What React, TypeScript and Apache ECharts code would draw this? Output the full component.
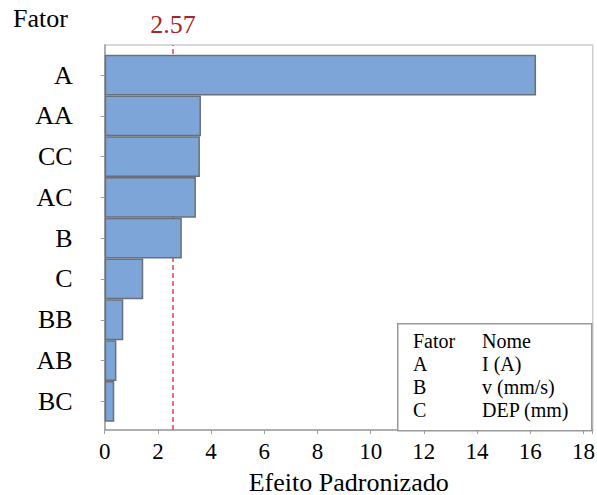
import React, { useEffect, useRef } from "react";
import * as echarts from "echarts";

const categories = ["A", "AA", "CC", "AC", "B", "C", "BB", "AB", "BC"];
const effects = [16.22, 3.62, 3.58, 3.43, 2.9, 1.45, 0.7, 0.44, 0.36];
const threshold = 2.57;
const xTicks = [0, 2, 4, 6, 8, 10, 12, 14, 16, 18];
const legendFactors = ["A", "B", "C"];
const legendNames = ["I (A)", "v (mm/s)", "DEP (mm)"];

const SERIF = "Liberation Serif";
const SERIF_LIST = "Liberation Serif, Times New Roman, serif";

export default function App() {
  const ref = useRef<HTMLDivElement>(null);
  useEffect(() => {
    if (!ref.current) return;
    const chart = echarts.init(ref.current, null, { renderer: "svg" });
    const L = 104.7;
    const T = 45;
    const W = 488;
    const H = 385;
    const legendRows = [["Fator", "Nome"], ...legendFactors.map((f, i) => [f, legendNames[i]])];
    const legendTexts: any[] = [];
    legendRows.forEach((row, i) => {
      legendTexts.push({
        type: "text",
        left: 413,
        top: 331 + i * 23,
        style: { text: row[0], fontSize: 20, fontFamily: SERIF, fill: "#000" },
      });
      legendTexts.push({
        type: "text",
        left: 482,
        top: 331 + i * 23,
        style: { text: row[1], fontSize: 20, fontFamily: SERIF, fill: "#000" },
      });
    });
    chart.setOption({
      animation: false,
      textStyle: { fontFamily: SERIF },
      grid: [
        {
          left: L, top: T, width: W, height: H, show: true,
          borderColor: "#cccccc", borderWidth: 1.5, backgroundColor: "#fff",
          outerBoundsMode: "none", containLabel: false,
        },
        { left: L, top: 54.7, width: W, height: 367, outerBoundsMode: "none", containLabel: false },
      ],
      xAxis: [
        {
          gridIndex: 0,
          type: "value",
          min: 0,
          max: 18.35,
          interval: 2,
          axisLine: { show: true, lineStyle: { color: "#a0a0a0", width: 1.5 } },
          axisTick: { show: true, length: 4, lineStyle: { color: "#a0a0a0" } },
          splitLine: { show: false },
          axisLabel: {
            show: true,
            color: "#000",
            fontSize: 23,
            fontStyle: "normal",
            fontWeight: "normal",
            fontFamily: SERIF_LIST,
            margin: 10,
            formatter: (v: number) => (xTicks.includes(v) ? String(v) : ""),
          },
          name: "Efeito Padronizado",
          nameLocation: "middle",
          nameGap: 39,
          nameTextStyle: {
            color: "#000",
            fontSize: 26,
            fontStyle: "normal",
            fontWeight: "normal",
            fontFamily: SERIF_LIST,
          },
        },
        {
          gridIndex: 1,
          type: "value",
          min: 0,
          max: 18.35,
          show: false,
        },
      ],
      yAxis: [
        {
          gridIndex: 0,
          type: "value",
          min: 0,
          max: 1,
          axisLine: { show: true, lineStyle: { color: "#a0a0a0", width: 1.5 } },
          axisTick: { show: false },
          axisLabel: { show: false },
          splitLine: { show: false },
        },
        {
          gridIndex: 1,
          type: "category",
          data: categories,
          inverse: true,
          axisLine: { show: false },
          axisTick: { show: true, alignWithLabel: true, length: 4, lineStyle: { color: "#a0a0a0" } },
          axisLabel: { color: "#000", fontSize: 26, fontFamily: SERIF, margin: 32 },
        },
      ],
      series: [
        {
          type: "scatter",
          xAxisIndex: 0,
          yAxisIndex: 0,
          data: [],
          z: 1,
          markLine: {
            silent: true,
            symbol: "none",
            z: 1,
            lineStyle: { type: [5, 3], color: "#d9474f", width: 1.5 },
            label: {
              show: true,
              position: "end",
              formatter: String(threshold),
              color: "#a3262c",
              fontSize: 26,
              fontFamily: SERIF,
              distance: 8,
            },
            data: [{ xAxis: threshold }],
          },
        },
        {
          type: "bar",
          xAxisIndex: 1,
          yAxisIndex: 1,
          data: effects,
          z: 5,
          barCategoryGap: 0,
          itemStyle: { color: "#7da5d8", borderColor: "#6a6f7a", borderWidth: 1.5 },
        },
      ],
      graphic: [
        {
          type: "text",
          left: 13,
          top: 5,
          style: { text: "Fator", fontSize: 26, fontFamily: SERIF, fill: "#000" },
        },
        {
          type: "rect",
          left: 397,
          top: 323,
          shape: { width: 194, height: 107 },
          style: { fill: "#fff", stroke: "#999999", lineWidth: 1.5 },
          z: 10,
        },
        ...legendTexts.map((t) => ({ ...t, z: 11 })),
      ],
    });
    return () => chart.dispose();
  }, []);
  return <div ref={ref} style={{ width: 597, height: 495, position: "absolute", left: 0, top: 0 }} />;
}
